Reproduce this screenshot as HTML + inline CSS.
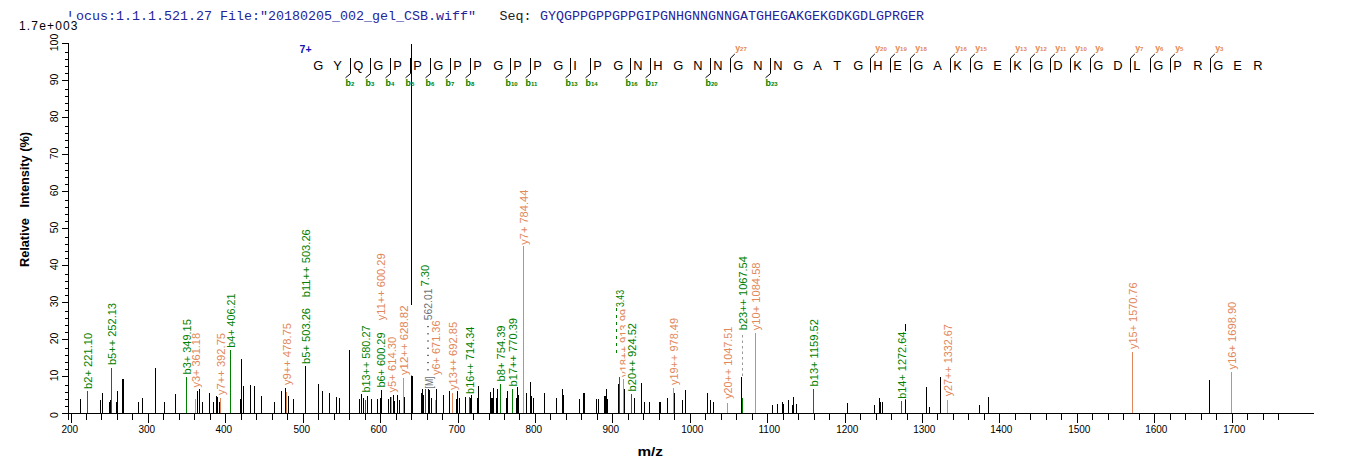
<!DOCTYPE html>
<html><head><meta charset="utf-8"><style>
html,body{margin:0;padding:0;background:#fff;width:1362px;height:473px;overflow:hidden}
svg{position:absolute;left:0;top:0}
text{font-family:"Liberation Sans",sans-serif} text.mono{font-family:"Liberation Mono",monospace}
</style></head><body>
<svg width="1362" height="473" viewBox="0 0 1362 473">
<defs><clipPath id="cy18" clipPathUnits="userSpaceOnUse"><rect x="600" y="0" width="25.5" height="473"/></clipPath></defs>
<g shape-rendering="crispEdges">
<path d="M62 413.5H1314M68.5 43V420" stroke="#000" stroke-width="1" fill="none"/>
<path d="M71.5 414v9M86.5 414v6M101.5 414v6M117.5 414v6M132.5 414v6M148.5 414v9M163.5 414v6M179.5 414v6M194.5 414v6M210.5 414v6M225.5 414v9M241.5 414v6M256.5 414v6M272.5 414v6M287.5 414v6M303.5 414v9M318.5 414v6M334.5 414v6M349.5 414v6M365.5 414v6M380.5 414v9M396.5 414v6M411.5 414v6M427.5 414v6M442.5 414v6M458.5 414v9M473.5 414v6M489.5 414v6M504.5 414v6M519.5 414v6M535.5 414v9M550.5 414v6M566.5 414v6M581.5 414v6M597.5 414v6M612.5 414v9M628.5 414v6M643.5 414v6M659.5 414v6M674.5 414v6M690.5 414v9M705.5 414v6M721.5 414v6M736.5 414v6M752.5 414v6M767.5 414v9M783.5 414v6M798.5 414v6M814.5 414v6M829.5 414v6M845.5 414v9M860.5 414v6M876.5 414v6M891.5 414v6M907.5 414v6M922.5 414v9M937.5 414v6M953.5 414v6M968.5 414v6M984.5 414v6M999.5 414v9M1015.5 414v6M1030.5 414v6M1046.5 414v6M1061.5 414v6M1077.5 414v9M1092.5 414v6M1108.5 414v6M1123.5 414v6M1139.5 414v6M1154.5 414v9M1170.5 414v6M1185.5 414v6M1201.5 414v6M1216.5 414v6M1232.5 414v9M1247.5 414v6M1263.5 414v6M1278.5 414v6" stroke="#000" stroke-width="1"/>
<path d="M62 413.5h7M65 406.5h4M65 399.5h4M65 392.5h4M65 385.5h4M62 376.5h7M65 369.5h4M65 362.5h4M65 355.5h4M65 348.5h4M62 339.5h7M65 332.5h4M65 325.5h4M65 318.5h4M65 311.5h4M62 302.5h7M65 295.5h4M65 288.5h4M65 281.5h4M65 274.5h4M62 265.5h7M65 258.5h4M65 251.5h4M65 244.5h4M65 237.5h4M62 228.5h7M65 221.5h4M65 214.5h4M65 207.5h4M65 200.5h4M62 191.5h7M65 184.5h4M65 177.5h4M65 170.5h4M65 163.5h4M62 154.5h7M65 147.5h4M65 140.5h4M65 133.5h4M65 126.5h4M62 117.5h7M65 110.5h4M65 103.5h4M65 96.5h4M65 89.5h4M62 80.5h7M65 73.5h4M65 66.5h4M65 59.5h4M65 52.5h4M62 43.5h7" stroke="#000" stroke-width="1"/>
<path d="M80.5 399V413M100.5 400V413M102.5 393V413M109.5 402V413M110.5 400V413M116.5 402V413M117.5 391V413M122.5 379V413M123.5 379V413M138.5 402V413M142.5 398V413M155.5 368V413M164.5 402V413M175.5 394V413M197.5 391V413M199.5 389V413M202.5 402V413M209.5 393V413M213.5 402V413M216.5 396V413M217.5 397V413M219.5 402V413M240.5 399V413M241.5 359V413M243.5 386V413M250.5 385V413M254.5 386V413M261.5 396V413M274.5 402V413M281.5 391V413M285.5 388V413M288.5 396V413M293.5 399V413M305.5 366V413M318.5 384V413M322.5 391V413M329.5 393V413M336.5 397V413M339.5 398V413M349.5 350V413M359.5 399V413M361.5 394V413M363.5 398V413M367.5 396V413M371.5 399V413M377.5 399V413M380.5 398V413M381.5 390V413M388.5 399V413M390.5 397V413M393.5 395V413M394.5 401V413M397.5 395V413M399.5 400V413M404.5 397V413M411.5 44V413M412.5 376V413M421.5 393V413M422.5 389V413M423.5 395V413M428.5 389V413M429.5 390V413M431.5 398V413M436.5 389V413M443.5 395V413M449.5 391V413M456.5 399V413M457.5 391V413M459.5 398V413M465.5 397V413M470.5 398V413M471.5 395V413M477.5 398V413M478.5 386V413M490.5 392V413M491.5 398V413M492.5 398V413M493.5 388V413M496.5 398V413M497.5 389V413M506.5 398V413M507.5 391V413M516.5 398V413M517.5 387V413M518.5 395V413M526.5 393V413M530.5 382V413M531.5 396V413M533.5 398V413M544.5 393V413M556.5 398V413M562.5 389V413M563.5 395V413M579.5 399V413M583.5 393V413M584.5 393V413M596.5 399V413M598.5 399V413M604.5 396V413M605.5 396V413M606.5 389V413M607.5 399V413M618.5 384V413M624.5 389V413M634.5 398V413M641.5 383V413M644.5 402V413M649.5 402V413M659.5 402V413M660.5 402V413M667.5 398V413M674.5 393V413M682.5 400V413M685.5 390V413M707.5 393V413M710.5 400V413M713.5 402V413M741.5 377V413M772.5 405V413M777.5 404V413M782.5 402V413M783.5 404V413M788.5 400V413M792.5 405V413M793.5 397V413M796.5 404V413M847.5 403V413M874.5 405V413M879.5 398V413M880.5 402V413M882.5 402V413M905.5 324V413M926.5 387V413M929.5 407V413M940.5 377V413M979.5 405V413M988.5 397V413M1209.5 380V413" stroke="#000" stroke-width="1"/>
<path d="M87.5 391V413M111.5 368V413M186.5 377V413M230.5 350V413M365.5 400V413M425.5 389V413M469.5 397V413M500.5 384V413M512.5 389V413M619.5 377V413M631.5 394V413M742.5 398V413M813.5 389V413M901.5 401V413" stroke="#008000" stroke-width="1"/>
<path d="M195.5 399V413M220.5 398V413M286.5 392V413M391.5 397V413M403.5 378V413M435.5 400V413M452.5 393V413M523.5 246V413M623.5 379V413M673.5 388V413M727.5 403V413M755.5 333V413M947.5 400V413M1132.5 352V413M1231.5 372V413" stroke="#E2875A" stroke-width="1"/>
</g>
<rect x="84" y="332.4" width="12" height="57.0" fill="#fff"/>
<text transform="translate(91.5,388.9) rotate(-90)" font-size="10" fill="#008000" textLength="56.0" lengthAdjust="spacingAndGlyphs">b2+ 221.10</text>
<rect x="108" y="302.5" width="12" height="63.1" fill="#fff"/>
<text transform="translate(115.5,365.1) rotate(-90)" font-size="10" fill="#008000" textLength="62.1" lengthAdjust="spacingAndGlyphs">b5++ 252.13</text>
<rect x="183" y="318.7" width="12" height="56.2" fill="#fff"/>
<text transform="translate(190.5,374.4) rotate(-90)" font-size="10" fill="#008000" textLength="55.2" lengthAdjust="spacingAndGlyphs">b3+ 349.15</text>
<rect x="192" y="332.4" width="12" height="55.7" fill="#fff"/>
<text transform="translate(199.5,387.6) rotate(-90)" font-size="10" fill="#E2875A" textLength="54.7" lengthAdjust="spacingAndGlyphs">y3+ 361.18</text>
<rect x="217" y="332.4" width="12" height="63.2" fill="#fff"/>
<text transform="translate(224.5,395.1) rotate(-90)" font-size="10" fill="#E2875A" textLength="62.2" lengthAdjust="spacingAndGlyphs">y7++ 392.75</text>
<rect x="227" y="293.1" width="12" height="55.1" fill="#fff"/>
<text transform="translate(234.5,347.7) rotate(-90)" font-size="10" fill="#008000" textLength="54.1" lengthAdjust="spacingAndGlyphs">b4+ 406.21</text>
<rect x="283" y="322.5" width="12" height="63.1" fill="#fff"/>
<text transform="translate(290.5,385.1) rotate(-90)" font-size="10" fill="#E2875A" textLength="62.1" lengthAdjust="spacingAndGlyphs">y9++ 478.75</text>
<rect x="302" y="307.5" width="12" height="56.9" fill="#fff"/>
<text transform="translate(309.5,363.9) rotate(-90)" font-size="10" fill="#008000" textLength="55.9" lengthAdjust="spacingAndGlyphs">b5+ 503.26</text>
<rect x="302" y="228.7" width="12" height="69.0" fill="#fff"/>
<text transform="translate(309.5,297.2) rotate(-90)" font-size="10" fill="#008000" textLength="68.0" lengthAdjust="spacingAndGlyphs">b11++ 503.26</text>
<rect x="362" y="325.0" width="12" height="68.1" fill="#fff"/>
<text transform="translate(369.5,392.6) rotate(-90)" font-size="10" fill="#008000" textLength="67.1" lengthAdjust="spacingAndGlyphs">b13++ 580.27</text>
<rect x="377" y="332.0" width="12" height="56.1" fill="#fff"/>
<text transform="translate(384.5,387.6) rotate(-90)" font-size="10" fill="#008000" textLength="55.1" lengthAdjust="spacingAndGlyphs">b6+ 600.29</text>
<rect x="377" y="252.9" width="12" height="67.8" fill="#fff"/>
<text transform="translate(384.5,320.2) rotate(-90)" font-size="10" fill="#E2875A" textLength="66.8" lengthAdjust="spacingAndGlyphs">y11++ 600.29</text>
<rect x="388" y="336.2" width="12" height="56.9" fill="#fff"/>
<text transform="translate(395.5,392.6) rotate(-90)" font-size="10" fill="#E2875A" textLength="55.9" lengthAdjust="spacingAndGlyphs">y5+ 614.30</text>
<rect x="400" y="305.0" width="12" height="70.6" fill="#fff"/>
<text transform="translate(407.5,375.1) rotate(-90)" font-size="10" fill="#E2875A" textLength="69.6" lengthAdjust="spacingAndGlyphs">y12++ 628.82</text>
<rect x="421" y="264.3" width="12" height="22.7" fill="#fff"/>
<text transform="translate(428.5,286.5) rotate(-90)" font-size="10" fill="#008000" textLength="21.7" lengthAdjust="spacingAndGlyphs">7.30</text>
<rect x="424" y="288.0" width="12" height="32.7" fill="#fff"/>
<text transform="translate(431.5,320.2) rotate(-90)" font-size="10" fill="#6a7078" textLength="31.7" lengthAdjust="spacingAndGlyphs">562.01</text>
<rect x="432" y="320.0" width="12" height="55.6" fill="#fff"/>
<text transform="translate(439.5,375.1) rotate(-90)" font-size="10" fill="#E2875A" textLength="54.6" lengthAdjust="spacingAndGlyphs">y6+ 671.36</text>
<rect x="425.5" y="376.0" width="12" height="13.0" fill="#fff"/>
<text transform="translate(433.0,388.5) rotate(-90)" font-size="10" fill="#6a7078" textLength="12.0" lengthAdjust="spacingAndGlyphs">[M]</text>
<rect x="449" y="321.2" width="12" height="69.4" fill="#fff"/>
<text transform="translate(456.5,390.1) rotate(-90)" font-size="10" fill="#E2875A" textLength="68.4" lengthAdjust="spacingAndGlyphs">y13++ 692.85</text>
<rect x="466" y="326.2" width="12" height="68.2" fill="#fff"/>
<text transform="translate(473.5,393.9) rotate(-90)" font-size="10" fill="#008000" textLength="67.2" lengthAdjust="spacingAndGlyphs">b16++ 714.34</text>
<rect x="497" y="325.0" width="12" height="56.9" fill="#fff"/>
<text transform="translate(504.5,381.4) rotate(-90)" font-size="10" fill="#008000" textLength="55.9" lengthAdjust="spacingAndGlyphs">b8+ 754.39</text>
<rect x="509" y="317.5" width="12" height="69.4" fill="#fff"/>
<text transform="translate(516.5,386.4) rotate(-90)" font-size="10" fill="#008000" textLength="68.4" lengthAdjust="spacingAndGlyphs">b17++ 770.39</text>
<rect x="520" y="189.2" width="12" height="56.1" fill="#fff"/>
<text transform="translate(527.5,244.8) rotate(-90)" font-size="10" fill="#E2875A" textLength="55.1" lengthAdjust="spacingAndGlyphs">y7+ 784.44</text>
<rect x="616" y="289.5" width="12" height="18.0" fill="#fff"/>
<text transform="translate(623.5,307.0) rotate(-90)" font-size="10" fill="#008000" textLength="17.0" lengthAdjust="spacingAndGlyphs">3.43</text>
<rect x="628" y="322.5" width="12" height="69.4" fill="#fff"/>
<text transform="translate(635.5,391.4) rotate(-90)" font-size="10" fill="#008000" textLength="68.4" lengthAdjust="spacingAndGlyphs">b20++ 924.52</text>
<g clip-path="url(#cy18)"><text transform="translate(627.5,377.0) rotate(-90)" font-size="10" fill="#E2875A" textLength="68.0" lengthAdjust="spacingAndGlyphs">y18++ 913.99</text></g>
<rect x="670" y="317.5" width="12" height="68.1" fill="#fff"/>
<text transform="translate(677.5,385.1) rotate(-90)" font-size="10" fill="#E2875A" textLength="67.1" lengthAdjust="spacingAndGlyphs">y19++ 978.49</text>
<rect x="724" y="326.2" width="12" height="73.1" fill="#fff"/>
<text transform="translate(731.5,398.8) rotate(-90)" font-size="10" fill="#E2875A" textLength="72.1" lengthAdjust="spacingAndGlyphs">y20++ 1047.51</text>
<rect x="739" y="255.7" width="12" height="75.0" fill="#fff"/>
<text transform="translate(746.5,330.2) rotate(-90)" font-size="10" fill="#008000" textLength="74.0" lengthAdjust="spacingAndGlyphs">b23++ 1067.54</text>
<rect x="752" y="262.0" width="12" height="68.7" fill="#fff"/>
<text transform="translate(759.5,330.2) rotate(-90)" font-size="10" fill="#E2875A" textLength="67.7" lengthAdjust="spacingAndGlyphs">y10+ 1084.58</text>
<rect x="810" y="318.7" width="12" height="68.2" fill="#fff"/>
<text transform="translate(817.5,386.4) rotate(-90)" font-size="10" fill="#008000" textLength="67.2" lengthAdjust="spacingAndGlyphs">b13+ 1159.52</text>
<rect x="898" y="331.2" width="12" height="68.1" fill="#fff"/>
<text transform="translate(905.5,398.8) rotate(-90)" font-size="10" fill="#008000" textLength="67.1" lengthAdjust="spacingAndGlyphs">b14+ 1272.64</text>
<rect x="944" y="323.7" width="12" height="73.1" fill="#fff"/>
<text transform="translate(951.5,396.3) rotate(-90)" font-size="10" fill="#E2875A" textLength="72.1" lengthAdjust="spacingAndGlyphs">y27++ 1332.67</text>
<rect x="1129" y="282.0" width="12" height="67.4" fill="#fff"/>
<text transform="translate(1136.5,348.9) rotate(-90)" font-size="10" fill="#E2875A" textLength="66.4" lengthAdjust="spacingAndGlyphs">y15+ 1570.76</text>
<rect x="1228" y="301.2" width="12" height="68.7" fill="#fff"/>
<text transform="translate(1235.5,369.4) rotate(-90)" font-size="10" fill="#E2875A" textLength="67.7" lengthAdjust="spacingAndGlyphs">y16+ 1698.90</text>
<path d="M427.5 326V374M428.5 326V374" stroke="#6a7078" stroke-dasharray="1.2 6"/>
<path d="M616.5 308V353" stroke="#008000" stroke-dasharray="3 4"/>
<path d="M742.5 335V376" stroke="#999" stroke-dasharray="2.5 3"/>
<text x="69.8" y="433" font-size="10" text-anchor="middle" fill="#000">200</text>
<text x="146.8" y="433" font-size="10" text-anchor="middle" fill="#000">300</text>
<text x="223.8" y="433" font-size="10" text-anchor="middle" fill="#000">400</text>
<text x="301.8" y="433" font-size="10" text-anchor="middle" fill="#000">500</text>
<text x="378.8" y="433" font-size="10" text-anchor="middle" fill="#000">600</text>
<text x="456.8" y="433" font-size="10" text-anchor="middle" fill="#000">700</text>
<text x="533.8" y="433" font-size="10" text-anchor="middle" fill="#000">800</text>
<text x="610.8" y="433" font-size="10" text-anchor="middle" fill="#000">900</text>
<text x="692.3" y="433" font-size="10" text-anchor="middle" fill="#000">1000</text>
<text x="769.3" y="433" font-size="10" text-anchor="middle" fill="#000">1100</text>
<text x="847.3" y="433" font-size="10" text-anchor="middle" fill="#000">1200</text>
<text x="924.3" y="433" font-size="10" text-anchor="middle" fill="#000">1300</text>
<text x="1001.3" y="433" font-size="10" text-anchor="middle" fill="#000">1400</text>
<text x="1079.3" y="433" font-size="10" text-anchor="middle" fill="#000">1500</text>
<text x="1156.3" y="433" font-size="10" text-anchor="middle" fill="#000">1600</text>
<text x="1234.3" y="433" font-size="10" text-anchor="middle" fill="#000">1700</text>
<text transform="translate(58,415.2) rotate(-90)" font-size="10.5" text-anchor="middle" fill="#000">0</text>
<text transform="translate(58,375.5) rotate(-90)" font-size="10.5" text-anchor="middle" fill="#000">10</text>
<text transform="translate(58,338.5) rotate(-90)" font-size="10.5" text-anchor="middle" fill="#000">20</text>
<text transform="translate(58,301.5) rotate(-90)" font-size="10.5" text-anchor="middle" fill="#000">30</text>
<text transform="translate(58,264.5) rotate(-90)" font-size="10.5" text-anchor="middle" fill="#000">40</text>
<text transform="translate(58,227.5) rotate(-90)" font-size="10.5" text-anchor="middle" fill="#000">50</text>
<text transform="translate(58,190.5) rotate(-90)" font-size="10.5" text-anchor="middle" fill="#000">60</text>
<text transform="translate(58,153.5) rotate(-90)" font-size="10.5" text-anchor="middle" fill="#000">70</text>
<text transform="translate(58,116.5) rotate(-90)" font-size="10.5" text-anchor="middle" fill="#000">80</text>
<text transform="translate(58,79.5) rotate(-90)" font-size="10.5" text-anchor="middle" fill="#000">90</text>
<text transform="translate(58,42.5) rotate(-90)" font-size="10.5" text-anchor="middle" fill="#000">100</text>
<text x="68" y="19.5" class="mono" font-size="13.34" fill="#24249A" xml:space="preserve">Locus:1.1.1.521.27 File:"20180205_002_gel_CSB.wiff"</text>
<text x="499.5" y="19.5" class="mono" font-size="13.34" fill="#202020">Seq:</text>
<text x="540" y="19.5" class="mono" font-size="13.34" fill="#24249A">GYQGPPGPPGPPGIPGNHGNNGNNGATGHEGAKGEKGDKGDLGPRGER</text>
<rect x="17" y="16.8" width="60" height="14" fill="#fff"/>
<text x="19" y="29.5" font-size="12" fill="#000" textLength="58.5" lengthAdjust="spacing">1.7e+003</text>
<text transform="translate(29,267) rotate(-90)" font-size="12.5" font-weight="bold" fill="#000" textLength="135" lengthAdjust="spacingAndGlyphs" xml:space="preserve">Relative   Intensity (%)</text>
<text x="637.5" y="456" font-size="12.5" font-weight="bold" fill="#000" textLength="25.5" lengthAdjust="spacingAndGlyphs">m/z</text>
<text x="299.6" y="52.8" font-size="10.5" font-weight="bold" fill="#1414B4">7+</text>
<text x="313.2" y="69.8" font-size="12.4" fill="#000" transform="translate(313.2,0) scale(1.04,1) translate(-313.2,0)">G</text>
<text x="333.2" y="69.8" font-size="12.4" fill="#000" transform="translate(333.2,0) scale(1.04,1) translate(-333.2,0)">Y</text>
<text x="353.2" y="69.8" font-size="12.4" fill="#000" transform="translate(353.2,0) scale(1.04,1) translate(-353.2,0)">Q</text>
<text x="373.2" y="69.8" font-size="12.4" fill="#000" transform="translate(373.2,0) scale(1.04,1) translate(-373.2,0)">G</text>
<text x="393.2" y="69.8" font-size="12.4" fill="#000" transform="translate(393.2,0) scale(1.04,1) translate(-393.2,0)">P</text>
<text x="413.2" y="69.8" font-size="12.4" fill="#000" transform="translate(413.2,0) scale(1.04,1) translate(-413.2,0)">P</text>
<text x="433.2" y="69.8" font-size="12.4" fill="#000" transform="translate(433.2,0) scale(1.04,1) translate(-433.2,0)">G</text>
<text x="453.2" y="69.8" font-size="12.4" fill="#000" transform="translate(453.2,0) scale(1.04,1) translate(-453.2,0)">P</text>
<text x="473.2" y="69.8" font-size="12.4" fill="#000" transform="translate(473.2,0) scale(1.04,1) translate(-473.2,0)">P</text>
<text x="493.2" y="69.8" font-size="12.4" fill="#000" transform="translate(493.2,0) scale(1.04,1) translate(-493.2,0)">G</text>
<text x="513.2" y="69.8" font-size="12.4" fill="#000" transform="translate(513.2,0) scale(1.04,1) translate(-513.2,0)">P</text>
<text x="533.2" y="69.8" font-size="12.4" fill="#000" transform="translate(533.2,0) scale(1.04,1) translate(-533.2,0)">P</text>
<text x="553.2" y="69.8" font-size="12.4" fill="#000" transform="translate(553.2,0) scale(1.04,1) translate(-553.2,0)">G</text>
<text x="573.2" y="69.8" font-size="12.4" fill="#000" transform="translate(573.2,0) scale(1.04,1) translate(-573.2,0)">I</text>
<text x="593.2" y="69.8" font-size="12.4" fill="#000" transform="translate(593.2,0) scale(1.04,1) translate(-593.2,0)">P</text>
<text x="613.2" y="69.8" font-size="12.4" fill="#000" transform="translate(613.2,0) scale(1.04,1) translate(-613.2,0)">G</text>
<text x="633.2" y="69.8" font-size="12.4" fill="#000" transform="translate(633.2,0) scale(1.04,1) translate(-633.2,0)">N</text>
<text x="653.2" y="69.8" font-size="12.4" fill="#000" transform="translate(653.2,0) scale(1.04,1) translate(-653.2,0)">H</text>
<text x="673.2" y="69.8" font-size="12.4" fill="#000" transform="translate(673.2,0) scale(1.04,1) translate(-673.2,0)">G</text>
<text x="693.2" y="69.8" font-size="12.4" fill="#000" transform="translate(693.2,0) scale(1.04,1) translate(-693.2,0)">N</text>
<text x="713.2" y="69.8" font-size="12.4" fill="#000" transform="translate(713.2,0) scale(1.04,1) translate(-713.2,0)">N</text>
<text x="733.2" y="69.8" font-size="12.4" fill="#000" transform="translate(733.2,0) scale(1.04,1) translate(-733.2,0)">G</text>
<text x="753.2" y="69.8" font-size="12.4" fill="#000" transform="translate(753.2,0) scale(1.04,1) translate(-753.2,0)">N</text>
<text x="773.2" y="69.8" font-size="12.4" fill="#000" transform="translate(773.2,0) scale(1.04,1) translate(-773.2,0)">N</text>
<text x="793.2" y="69.8" font-size="12.4" fill="#000" transform="translate(793.2,0) scale(1.04,1) translate(-793.2,0)">G</text>
<text x="813.2" y="69.8" font-size="12.4" fill="#000" transform="translate(813.2,0) scale(1.04,1) translate(-813.2,0)">A</text>
<text x="833.2" y="69.8" font-size="12.4" fill="#000" transform="translate(833.2,0) scale(1.04,1) translate(-833.2,0)">T</text>
<text x="853.2" y="69.8" font-size="12.4" fill="#000" transform="translate(853.2,0) scale(1.04,1) translate(-853.2,0)">G</text>
<text x="873.2" y="69.8" font-size="12.4" fill="#000" transform="translate(873.2,0) scale(1.04,1) translate(-873.2,0)">H</text>
<text x="893.2" y="69.8" font-size="12.4" fill="#000" transform="translate(893.2,0) scale(1.04,1) translate(-893.2,0)">E</text>
<text x="913.2" y="69.8" font-size="12.4" fill="#000" transform="translate(913.2,0) scale(1.04,1) translate(-913.2,0)">G</text>
<text x="933.2" y="69.8" font-size="12.4" fill="#000" transform="translate(933.2,0) scale(1.04,1) translate(-933.2,0)">A</text>
<text x="953.2" y="69.8" font-size="12.4" fill="#000" transform="translate(953.2,0) scale(1.04,1) translate(-953.2,0)">K</text>
<text x="973.2" y="69.8" font-size="12.4" fill="#000" transform="translate(973.2,0) scale(1.04,1) translate(-973.2,0)">G</text>
<text x="993.2" y="69.8" font-size="12.4" fill="#000" transform="translate(993.2,0) scale(1.04,1) translate(-993.2,0)">E</text>
<text x="1013.2" y="69.8" font-size="12.4" fill="#000" transform="translate(1013.2,0) scale(1.04,1) translate(-1013.2,0)">K</text>
<text x="1033.2" y="69.8" font-size="12.4" fill="#000" transform="translate(1033.2,0) scale(1.04,1) translate(-1033.2,0)">G</text>
<text x="1053.2" y="69.8" font-size="12.4" fill="#000" transform="translate(1053.2,0) scale(1.04,1) translate(-1053.2,0)">D</text>
<text x="1073.2" y="69.8" font-size="12.4" fill="#000" transform="translate(1073.2,0) scale(1.04,1) translate(-1073.2,0)">K</text>
<text x="1093.2" y="69.8" font-size="12.4" fill="#000" transform="translate(1093.2,0) scale(1.04,1) translate(-1093.2,0)">G</text>
<text x="1113.2" y="69.8" font-size="12.4" fill="#000" transform="translate(1113.2,0) scale(1.04,1) translate(-1113.2,0)">D</text>
<text x="1133.2" y="69.8" font-size="12.4" fill="#000" transform="translate(1133.2,0) scale(1.04,1) translate(-1133.2,0)">L</text>
<text x="1153.2" y="69.8" font-size="12.4" fill="#000" transform="translate(1153.2,0) scale(1.04,1) translate(-1153.2,0)">G</text>
<text x="1173.2" y="69.8" font-size="12.4" fill="#000" transform="translate(1173.2,0) scale(1.04,1) translate(-1173.2,0)">P</text>
<text x="1193.2" y="69.8" font-size="12.4" fill="#000" transform="translate(1193.2,0) scale(1.04,1) translate(-1193.2,0)">R</text>
<text x="1213.2" y="69.8" font-size="12.4" fill="#000" transform="translate(1213.2,0) scale(1.04,1) translate(-1213.2,0)">G</text>
<text x="1233.2" y="69.8" font-size="12.4" fill="#000" transform="translate(1233.2,0) scale(1.04,1) translate(-1233.2,0)">E</text>
<text x="1253.2" y="69.8" font-size="12.4" fill="#000" transform="translate(1253.2,0) scale(1.04,1) translate(-1253.2,0)">R</text>
<path d="M350.5 58V73.6L345.5 77.8M370.5 58V73.6L365.5 77.8M390.5 58V73.6L385.5 77.8M410.5 58V73.6L405.5 77.8M430.5 58V73.6L425.5 77.8M450.5 58V73.6L445.5 77.8M470.5 58V73.6L465.5 77.8M510.5 58V73.6L505.5 77.8M530.5 58V73.6L525.5 77.8M570.5 58V73.6L565.5 77.8M590.5 58V73.6L585.5 77.8M630.5 58V73.6L625.5 77.8M650.5 58V73.6L645.5 77.8M710.5 58V73.6L705.5 77.8M770.5 58V73.6L765.5 77.8M730.5 72.5V58.2L734.8 54M870.5 72.5V58.2L874.8 54M890.5 72.5V58.2L894.8 54M910.5 72.5V58.2L914.8 54M950.5 72.5V58.2L954.8 54M970.5 72.5V58.2L974.8 54M1010.5 72.5V58.2L1014.8 54M1030.5 72.5V58.2L1034.8 54M1050.5 72.5V58.2L1054.8 54M1070.5 72.5V58.2L1074.8 54M1090.5 72.5V58.2L1094.8 54M1130.5 72.5V58.2L1134.8 54M1150.5 72.5V58.2L1154.8 54M1170.5 72.5V58.2L1174.8 54M1210.5 72.5V58.2L1214.8 54" stroke="#000" stroke-width="1" fill="none"/>
<text x="345.5" y="85.6" font-size="8.8" font-weight="bold" fill="#008000">b<tspan font-size="6">2</tspan></text>
<text x="365.5" y="85.6" font-size="8.8" font-weight="bold" fill="#008000">b<tspan font-size="6">3</tspan></text>
<text x="385.5" y="85.6" font-size="8.8" font-weight="bold" fill="#008000">b<tspan font-size="6">4</tspan></text>
<text x="405.5" y="85.6" font-size="8.8" font-weight="bold" fill="#008000">b<tspan font-size="6">5</tspan></text>
<text x="425.5" y="85.6" font-size="8.8" font-weight="bold" fill="#008000">b<tspan font-size="6">6</tspan></text>
<text x="445.5" y="85.6" font-size="8.8" font-weight="bold" fill="#008000">b<tspan font-size="6">7</tspan></text>
<text x="465.5" y="85.6" font-size="8.8" font-weight="bold" fill="#008000">b<tspan font-size="6">8</tspan></text>
<text x="505.5" y="85.6" font-size="8.8" font-weight="bold" fill="#008000">b<tspan font-size="6">10</tspan></text>
<text x="525.5" y="85.6" font-size="8.8" font-weight="bold" fill="#008000">b<tspan font-size="6">11</tspan></text>
<text x="565.5" y="85.6" font-size="8.8" font-weight="bold" fill="#008000">b<tspan font-size="6">13</tspan></text>
<text x="585.5" y="85.6" font-size="8.8" font-weight="bold" fill="#008000">b<tspan font-size="6">14</tspan></text>
<text x="625.5" y="85.6" font-size="8.8" font-weight="bold" fill="#008000">b<tspan font-size="6">16</tspan></text>
<text x="645.5" y="85.6" font-size="8.8" font-weight="bold" fill="#008000">b<tspan font-size="6">17</tspan></text>
<text x="705.5" y="85.6" font-size="8.8" font-weight="bold" fill="#008000">b<tspan font-size="6">20</tspan></text>
<text x="765.5" y="85.6" font-size="8.8" font-weight="bold" fill="#008000">b<tspan font-size="6">23</tspan></text>
<text x="735.2" y="50.8" font-size="8.8" font-weight="bold" fill="#E2875A">y<tspan font-size="6">27</tspan></text>
<text x="875.2" y="50.8" font-size="8.8" font-weight="bold" fill="#E2875A">y<tspan font-size="6">20</tspan></text>
<text x="895.2" y="50.8" font-size="8.8" font-weight="bold" fill="#E2875A">y<tspan font-size="6">19</tspan></text>
<text x="915.2" y="50.8" font-size="8.8" font-weight="bold" fill="#E2875A">y<tspan font-size="6">18</tspan></text>
<text x="955.2" y="50.8" font-size="8.8" font-weight="bold" fill="#E2875A">y<tspan font-size="6">16</tspan></text>
<text x="975.2" y="50.8" font-size="8.8" font-weight="bold" fill="#E2875A">y<tspan font-size="6">15</tspan></text>
<text x="1015.2" y="50.8" font-size="8.8" font-weight="bold" fill="#E2875A">y<tspan font-size="6">13</tspan></text>
<text x="1035.2" y="50.8" font-size="8.8" font-weight="bold" fill="#E2875A">y<tspan font-size="6">12</tspan></text>
<text x="1055.2" y="50.8" font-size="8.8" font-weight="bold" fill="#E2875A">y<tspan font-size="6">11</tspan></text>
<text x="1075.2" y="50.8" font-size="8.8" font-weight="bold" fill="#E2875A">y<tspan font-size="6">10</tspan></text>
<text x="1095.2" y="50.8" font-size="8.8" font-weight="bold" fill="#E2875A">y<tspan font-size="6">9</tspan></text>
<text x="1135.2" y="50.8" font-size="8.8" font-weight="bold" fill="#E2875A">y<tspan font-size="6">7</tspan></text>
<text x="1155.2" y="50.8" font-size="8.8" font-weight="bold" fill="#E2875A">y<tspan font-size="6">6</tspan></text>
<text x="1175.2" y="50.8" font-size="8.8" font-weight="bold" fill="#E2875A">y<tspan font-size="6">5</tspan></text>
<text x="1215.2" y="50.8" font-size="8.8" font-weight="bold" fill="#E2875A">y<tspan font-size="6">3</tspan></text>
</svg>
</body></html>
